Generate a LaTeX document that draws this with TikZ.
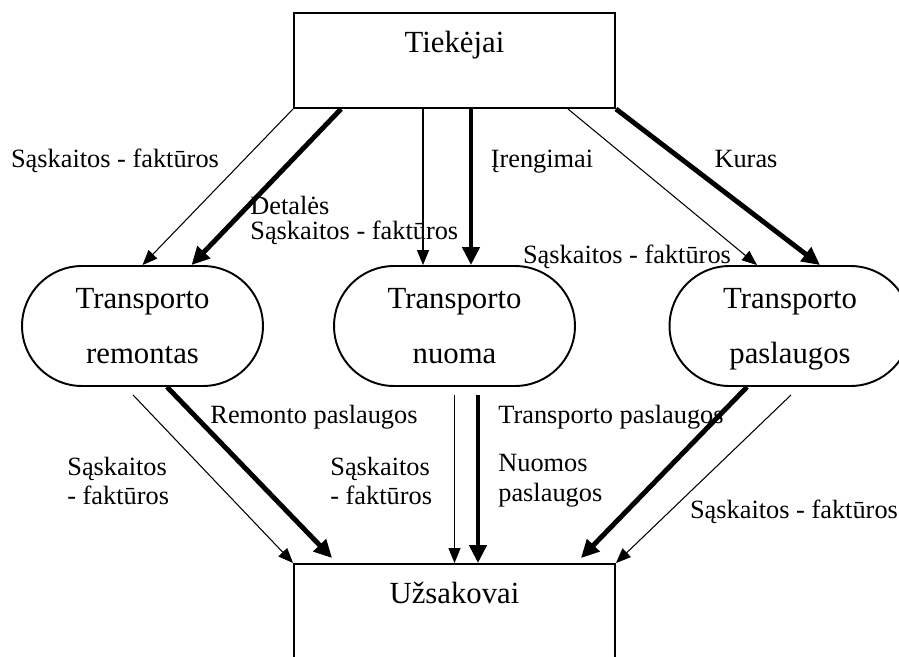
\documentclass[tikz,border=0pt]{standalone}
\usepackage{fontspec}
\setmainfont{Liberation Serif}
\usetikzlibrary{arrows.meta}
\begin{document}
\begin{tikzpicture}[x=0.02cm,y=-0.02cm,
	party/.style={draw,line width=1.1pt,inner sep=0pt,minimum width=6.42cm,text height=0.78cm,text depth=1.12cm,font=\fontsize{17.5}{21}\selectfont},
	unit/.style={draw,line width=1.1pt,rounded corners=1.2cm,inner sep=0pt,minimum width=4.82cm,minimum height=2.4cm,align=center,text depth=0pt,font=\fontsize{17.5}{31.3}\selectfont},
	lbl/.style={inner sep=0pt,anchor=base,font=\fontsize{15}{17}\selectfont},
	lbltwo/.style={inner sep=0pt,align=left,anchor=west,font=\fontsize{15}{17}\selectfont},
	doc/.style={-{Triangle[length=0.3cm,width=0.24cm]},line width=0.6pt},
	good/.style={-{Triangle[length=0.36cm,width=0.34cm]},line width=2.8pt}]
		
		\clip (0,0) rectangle (899,656);
		
		\node(tiek) at (454.5,60.5)[party]{Tiekėjai};
		\node(rem) at (142.5,326)[unit]{Transporto\\remontas};
		\node(nuom) at (454.5,326)[unit]{Transporto\\nuoma};
		\node(pasl) at (790,326)[unit]{Transporto\\paslaugos};
		\node(uzs) at (454.5,611.5)[party]{Užsakovai};
		
		\draw[doc] (tiek.south west) -- (rem.north);
		\draw[good] ([xshift=0.96cm]tiek.south west) -- ([xshift=0.98cm]rem.north);
		\draw[doc] ([xshift=-0.63cm]tiek.south) -- ([xshift=-0.63cm]nuom.north);
		\draw[good] ([xshift=0.33cm]tiek.south) -- ([xshift=0.33cm]nuom.north);
		\draw[doc] ([xshift=-0.96cm]tiek.south east) -- ([xshift=-0.66cm]pasl.north);
		\draw[good] (tiek.south east) -- ([xshift=0.6cm]pasl.north);
		
		\draw[doc] ([xshift=-0.19cm,yshift=-0.16cm]rem.south) -- (uzs.north west);
		\draw[good] ([xshift=0.49cm]rem.south) -- ([xshift=0.78cm,yshift=0.1cm]uzs.north west);
		\draw[doc] ([yshift=-0.16cm]nuom.south) -- (uzs.north);
		\draw[good] ([xshift=0.47cm,yshift=-0.16cm]nuom.south) -- ([xshift=0.47cm]uzs.north);
		\draw[good] ([xshift=-0.86cm]pasl.south) -- ([xshift=-0.7cm,yshift=0.1cm]uzs.north east);
		\draw[doc] ([xshift=0.02cm,yshift=-0.16cm]pasl.south) -- (uzs.north east);
		
		\node(sf1) at (115,167)[lbl]{Sąskaitos - faktūros};
		\node(det) at (250,220.5)[lbltwo,font=\fontsize{15}{14.5}\selectfont]{Detalės\\Sąskaitos - faktūros};
		\node(ireng) at (542,167)[lbl]{Įrengimai};
		\node(kuras) at (746,167)[lbl]{Kuras};
		\node(sf2) at (627,263)[lbl]{Sąskaitos - faktūros};
		\node(remp) at (314,423)[lbl]{Remonto paslaugos};
		\node(sf3) at (67,481)[lbltwo]{Sąskaitos\\- faktūros};
		\node(sf4) at (330,481)[lbltwo]{Sąskaitos\\- faktūros};
		\node(trp) at (611,423)[lbl]{Transporto paslaugos};
		\node(nuomp) at (498,481)[lbltwo]{Nuomos\\paslaugos};
		\node(sf5) at (794,518)[lbl]{Sąskaitos - faktūros};
		
	\end{tikzpicture}
\end{document}
